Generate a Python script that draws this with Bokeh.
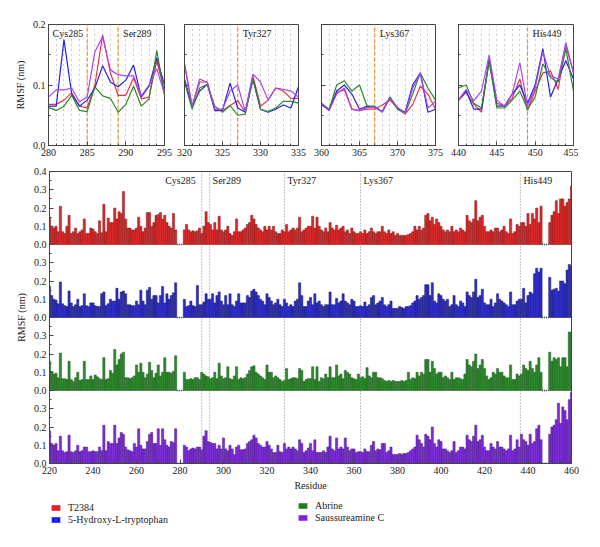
from bokeh.plotting import figure
from bokeh.layouts import column, row
from bokeh.models import (Range1d, FixedTicker, ColumnDataSource, Legend, LegendItem,
                          CustomJSTickFormatter, PrintfTickFormatter)
from bokeh.embed import file_html
from bokeh.resources import INLINE
from bokeh.core.properties import value

FONT = "Liberation Serif"

# ---------------- inset data (RMSF, nm) ----------------
inset_starts = [280, 320, 360, 440]
inset_red = [
    [0.068, 0.068, 0.075, 0.087, 0.065, 0.062, 0.10, 0.183, 0.12, 0.083, 0.083, 0.112, 0.077, 0.08, 0.14, 0.09],
    [0.135, 0.065, 0.105, 0.105, 0.057, 0.058, 0.066, 0.074, 0.055, 0.115, 0.065, 0.075, 0.095, 0.09, 0.078, 0.078],
    [0.067, 0.06, 0.088, 0.092, 0.06, 0.058, 0.06, 0.06, 0.067, 0.075, 0.062, 0.052, 0.068, 0.098, 0.085, 0.06],
    [0.075, 0.088, 0.068, 0.055, 0.14, 0.07, 0.065, 0.078, 0.11, 0.058, 0.09, 0.12, 0.123, 0.093, 0.165, 0.12],
]
inset_blue = [
    [0.065, 0.065, 0.175, 0.085, 0.065, 0.075, 0.095, 0.132, 0.105, 0.097, 0.108, 0.133, 0.08, 0.098, 0.145, 0.10],
    [0.11, 0.065, 0.09, 0.101, 0.058, 0.058, 0.103, 0.062, 0.055, 0.11, 0.06, 0.055, 0.06, 0.067, 0.062, 0.097],
    [0.068, 0.058, 0.09, 0.10, 0.085, 0.06, 0.065, 0.063, 0.056, 0.08, 0.062, 0.055, 0.10, 0.12, 0.055, 0.06],
    [0.075, 0.09, 0.06, 0.06, 0.143, 0.065, 0.065, 0.085, 0.10, 0.07, 0.10, 0.16, 0.08, 0.11, 0.14, 0.11],
]
inset_green = [
    [0.063, 0.058, 0.065, 0.083, 0.058, 0.056, 0.097, 0.082, 0.078, 0.055, 0.068, 0.098, 0.065, 0.077, 0.157, 0.083],
    [0.105, 0.06, 0.095, 0.101, 0.065, 0.055, 0.066, 0.05, 0.052, 0.11, 0.06, 0.056, 0.062, 0.073, 0.073, 0.07],
    [0.07, 0.06, 0.10, 0.107, 0.09, 0.10, 0.065, 0.065, 0.055, 0.08, 0.06, 0.053, 0.085, 0.12, 0.095, 0.075],
    [0.095, 0.10, 0.07, 0.062, 0.14, 0.062, 0.062, 0.075, 0.09, 0.06, 0.08, 0.135, 0.112, 0.105, 0.16, 0.09],
]
inset_purple = [
    [0.08, 0.092, 0.092, 0.095, 0.072, 0.08, 0.155, 0.18, 0.125, 0.117, 0.115, 0.115, 0.082, 0.10, 0.127, 0.085],
    [0.135, 0.065, 0.11, 0.104, 0.06, 0.06, 0.09, 0.10, 0.056, 0.118, 0.105, 0.075, 0.095, 0.093, 0.09, 0.08],
    [0.07, 0.058, 0.085, 0.095, 0.06, 0.057, 0.063, 0.063, 0.056, 0.078, 0.063, 0.053, 0.095, 0.12, 0.062, 0.073],
    [0.075, 0.093, 0.074, 0.09, 0.15, 0.075, 0.065, 0.085, 0.137, 0.065, 0.095, 0.155, 0.115, 0.11, 0.17, 0.12],
]
inset_marks = [[285, 289], [327], [367], [449]]
inset_mark_labels = [["Cys285", "Ser289"], ["Tyr327"], ["Lys367"], ["His449"]]
inset_mark_align = [["right", "left"], ["left"], ["left"], ["left"]]

# ---------------- full-range data ----------------
residues = list(range(220, 461))
N = None
red_vals = [
    0.15, 0.10, 0.09, 0.10, 0.07, 0.21, 0.07, 0.06, 0.10, 0.16,
    0.06, 0.07, 0.09, 0.06, 0.07, 0.08, 0.14, 0.06, 0.06, 0.09,
    0.085, 0.07, 0.06, 0.13, 0.065, 0.22, 0.07, 0.145, 0.12, 0.12,
    0.20, 0.14, 0.18, 0.17, 0.29, 0.14, 0.09, 0.09, 0.08, 0.08,
    0.09, 0.15, 0.10, 0.07, 0.09, 0.175, 0.175, 0.10, 0.12, 0.16,
    0.165, 0.175, 0.14, 0.16, 0.12, 0.10, 0.09, 0.17, 0.08, N,
    N, N, 0.08, 0.11, 0.08, 0.07, 0.075, 0.07, 0.075, 0.09,
    0.06, 0.10, 0.18, 0.12, 0.11, 0.08, 0.12, 0.08, 0.155, 0.08,
    0.07, 0.08, 0.10, 0.06, 0.05, 0.07, 0.14, 0.07, 0.07, 0.08,
    0.09, 0.11, 0.12, 0.16, 0.14, 0.11, 0.09, 0.08, 0.07, 0.10,
    0.08, 0.10, 0.08, 0.10, 0.07, 0.06, 0.06, 0.08, 0.07, 0.11,
    0.07, 0.08, 0.09, 0.08, 0.09, 0.15, 0.07, 0.08, 0.09, 0.10,
    0.10, 0.155, 0.09, 0.15, 0.10, 0.08, 0.07, 0.09, 0.07, 0.12,
    0.09, 0.08, 0.105, 0.08, 0.09, 0.10, 0.07, 0.08, 0.06, 0.09,
    0.07, 0.06, 0.06, 0.07, 0.06, 0.08, 0.06, 0.07, 0.09, 0.07,
    0.06, 0.07, 0.07, 0.10, 0.07, 0.06, 0.08, 0.06, 0.07, 0.05,
    0.06, 0.05, 0.05, 0.05, 0.05, 0.055, 0.06, 0.07, 0.10, 0.08,
    0.10, 0.08, 0.09, 0.16, 0.17, 0.13, 0.15, 0.11, 0.14, 0.12,
    0.10, 0.08, 0.07, 0.08, 0.07, 0.10, 0.07, 0.08, 0.07, 0.09,
    0.08, 0.07, 0.16, 0.13, 0.12, 0.14, 0.24, 0.13, 0.15, 0.16,
    0.10, 0.07, 0.07, 0.08, 0.07, 0.09, 0.09, 0.07, 0.08, 0.10,
    0.07, 0.06, 0.14, 0.06, 0.07, 0.11, 0.10, 0.12, 0.12, 0.10,
    0.17, 0.11, 0.17, 0.14, 0.20, 0.12, 0.21, N, N, N,
    0.12, 0.16, 0.18, 0.24, 0.17, 0.25, 0.25, 0.21, 0.23, 0.25, 0.32,
]
blue_vals = [
    0.17, 0.12, 0.10, 0.095, 0.075, 0.195, 0.075, 0.065, 0.06, 0.145,
    0.08, 0.06, 0.07, 0.10, 0.06, 0.065, 0.13, 0.065, 0.06, 0.08,
    0.08, 0.065, 0.06, 0.06, 0.13, 0.14, 0.065, 0.075, 0.10, 0.09,
    0.09, 0.16, 0.10, 0.14, 0.145, 0.13, 0.07, 0.07, 0.065, 0.065,
    0.09, 0.07, 0.15, 0.09, 0.07, 0.15, 0.165, 0.10, 0.12, 0.12,
    0.08, 0.12, 0.17, 0.08, 0.13, 0.10, 0.12, 0.135, 0.19, N,
    N, N, 0.10, 0.06, 0.065, 0.09, 0.065, 0.06, 0.175, 0.07,
    0.07, 0.085, 0.13, 0.10, 0.10, 0.13, 0.08, 0.12, 0.14, 0.09,
    0.07, 0.12, 0.07, 0.13, 0.07, 0.06, 0.09, 0.13, 0.08, 0.08,
    0.08, 0.12, 0.11, 0.145, 0.155, 0.14, 0.12, 0.10, 0.09, 0.07,
    0.13, 0.11, 0.09, 0.07, 0.08, 0.10, 0.07, 0.06, 0.10, 0.08,
    0.06, 0.07, 0.06, 0.09, 0.10, 0.19, 0.12, 0.06, 0.06, 0.09,
    0.11, 0.07, 0.13, 0.08, 0.09, 0.07, 0.06, 0.07, 0.07, 0.14,
    0.07, 0.07, 0.105, 0.08, 0.09, 0.13, 0.09, 0.08, 0.07, 0.10,
    0.09, 0.06, 0.06, 0.065, 0.06, 0.085, 0.06, 0.07, 0.11, 0.12,
    0.07, 0.08, 0.09, 0.11, 0.07, 0.06, 0.07, 0.09, 0.05, 0.05,
    0.05, 0.06, 0.055, 0.05, 0.06, 0.06, 0.065, 0.08, 0.09, 0.12,
    0.10, 0.11, 0.12, 0.18, 0.18, 0.12, 0.19, 0.09, 0.08, 0.13,
    0.12, 0.10, 0.09, 0.10, 0.06, 0.07, 0.12, 0.07, 0.06, 0.09,
    0.08, 0.06, 0.14, 0.12, 0.11, 0.14, 0.21, 0.11, 0.12, 0.155,
    0.08, 0.07, 0.07, 0.10, 0.06, 0.08, 0.13, 0.10, 0.09, 0.08,
    0.07, 0.06, 0.14, 0.07, 0.07, 0.09, 0.10, 0.10, 0.16, 0.08,
    0.12, 0.14, 0.13, 0.24, 0.27, 0.25, 0.27, N, N, N,
    0.22, 0.15, 0.155, 0.16, 0.145, 0.20, 0.20, 0.185, 0.26, 0.29, 0.28,
]
green_vals = [
    0.16, 0.105, 0.09, 0.095, 0.07, 0.205, 0.065, 0.065, 0.06, 0.16,
    0.06, 0.05, 0.07, 0.10, 0.055, 0.06, 0.16, 0.06, 0.06, 0.08,
    0.06, 0.085, 0.075, 0.065, 0.06, 0.18, 0.06, 0.065, 0.11, 0.095,
    0.225, 0.14, 0.17, 0.20, 0.21, 0.07, 0.07, 0.065, 0.07, 0.08,
    0.14, 0.10, 0.15, 0.10, 0.07, 0.09, 0.155, 0.11, 0.07, 0.095,
    0.14, 0.08, 0.10, 0.18, 0.10, 0.10, 0.095, 0.105, 0.19, N,
    N, N, 0.10, 0.06, 0.06, 0.065, 0.06, 0.07, 0.07, 0.06,
    0.10, 0.09, 0.08, 0.075, 0.065, 0.07, 0.10, 0.065, 0.15, 0.08,
    0.065, 0.07, 0.13, 0.065, 0.06, 0.08, 0.13, 0.06, 0.07, 0.065,
    0.07, 0.09, 0.11, 0.13, 0.135, 0.10, 0.09, 0.08, 0.07, 0.06,
    0.14, 0.10, 0.10, 0.07, 0.08, 0.07, 0.06, 0.05, 0.055, 0.12,
    0.06, 0.065, 0.07, 0.07, 0.065, 0.12, 0.11, 0.05, 0.06, 0.065,
    0.065, 0.13, 0.06, 0.13, 0.05, 0.07, 0.065, 0.09, 0.07, 0.13,
    0.07, 0.07, 0.14, 0.08, 0.09, 0.065, 0.11, 0.10, 0.09, 0.07,
    0.065, 0.06, 0.09, 0.07, 0.075, 0.065, 0.125, 0.08, 0.07, 0.10,
    0.10, 0.07, 0.07, 0.065, 0.055, 0.05, 0.055, 0.05, 0.055, 0.05,
    0.05, 0.05, 0.055, 0.05, 0.055, 0.10, 0.06, 0.07, 0.065, 0.10,
    0.08, 0.10, 0.09, 0.17, 0.17, 0.10, 0.16, 0.12, 0.09, 0.10,
    0.10, 0.07, 0.08, 0.07, 0.06, 0.10, 0.06, 0.07, 0.07, 0.065,
    0.06, 0.09, 0.17, 0.14, 0.13, 0.16, 0.20, 0.12, 0.14, 0.17,
    0.12, 0.08, 0.06, 0.07, 0.10, 0.09, 0.12, 0.10, 0.10, 0.08,
    0.07, 0.07, 0.14, 0.06, 0.06, 0.09, 0.08, 0.09, 0.14, 0.12,
    0.11, 0.16, 0.12, 0.10, 0.14, 0.18, 0.10, N, N, N,
    0.21, 0.16, 0.18, 0.17, 0.18, 0.13, 0.18, 0.18, 0.13, 0.32, 0.32,
]
purple_vals = [
    0.18, 0.11, 0.10, 0.11, 0.07, 0.15, 0.07, 0.06, 0.065, 0.155,
    0.065, 0.06, 0.07, 0.10, 0.065, 0.07, 0.09, 0.09, 0.065, 0.065,
    0.07, 0.065, 0.065, 0.09, 0.07, 0.21, 0.07, 0.12, 0.11, 0.11,
    0.21, 0.11, 0.14, 0.17, 0.16, 0.09, 0.075, 0.07, 0.065, 0.11,
    0.09, 0.19, 0.10, 0.08, 0.08, 0.12, 0.16, 0.17, 0.11, 0.11,
    0.19, 0.10, 0.19, 0.13, 0.10, 0.09, 0.12, 0.115, 0.19, N,
    N, N, 0.10, 0.09, 0.07, 0.08, 0.085, 0.08, 0.09, 0.09,
    0.075, 0.15, 0.18, 0.12, 0.115, 0.11, 0.11, 0.08, 0.10, 0.08,
    0.14, 0.08, 0.07, 0.10, 0.08, 0.05, 0.09, 0.10, 0.075, 0.075,
    0.08, 0.11, 0.12, 0.13, 0.155, 0.14, 0.11, 0.10, 0.09, 0.09,
    0.12, 0.10, 0.08, 0.06, 0.06, 0.10, 0.065, 0.06, 0.11, 0.08,
    0.09, 0.08, 0.09, 0.08, 0.07, 0.13, 0.11, 0.06, 0.07, 0.085,
    0.11, 0.07, 0.13, 0.06, 0.06, 0.06, 0.07, 0.06, 0.09, 0.15,
    0.08, 0.07, 0.14, 0.08, 0.09, 0.08, 0.14, 0.09, 0.07, 0.08,
    0.08, 0.06, 0.065, 0.065, 0.06, 0.08, 0.065, 0.065, 0.10, 0.12,
    0.07, 0.08, 0.075, 0.11, 0.11, 0.06, 0.07, 0.09, 0.05, 0.05,
    0.05, 0.055, 0.05, 0.055, 0.055, 0.06, 0.07, 0.08, 0.09, 0.155,
    0.13, 0.11, 0.09, 0.16, 0.15, 0.13, 0.20, 0.11, 0.09, 0.13,
    0.12, 0.08, 0.08, 0.07, 0.06, 0.07, 0.12, 0.06, 0.07, 0.09,
    0.09, 0.08, 0.155, 0.13, 0.12, 0.15, 0.21, 0.12, 0.13, 0.155,
    0.09, 0.07, 0.07, 0.11, 0.09, 0.08, 0.12, 0.09, 0.09, 0.08,
    0.07, 0.08, 0.155, 0.07, 0.08, 0.13, 0.09, 0.16, 0.13, 0.12,
    0.10, 0.16, 0.11, 0.12, 0.19, 0.21, 0.13, N, N, N,
    0.16, 0.20, 0.21, 0.24, 0.33, 0.22, 0.31, 0.29, 0.24, 0.35, 0.39,
]
series_names = ["T2384", "5-Hydroxy-L-tryptophan", "Abrine", "Saussureamine C"]
bar_fill = ["#d92b2b", "#2f2fc8", "#2f8a2f", "#7d2fd8"]
bar_line = ["#8a1414", "#16166e", "#1a5a1a", "#4a1588"]
legend_fill = ["#ea1c24", "#1c1cf0", "#1f7f1f", "#7f22e6"]
inset_line = ["#f0304a", "#2424e6", "#2a8a2a", "#a845f0"]
panel_offsets = [1.2, 0.8, 0.4, 0.0]

marker_x = [290, 293.6, 328, 363, 436.5]
marker_labels = ["Cys285", "Ser289", "Tyr327", "Lys367", "His449"]
marker_align = ["right", "left", "left", "left", "left"]

for s in (red_vals, blue_vals, green_vals, purple_vals):
    assert len(s) == len(residues)


def style_axes(p, fs="10px"):
    for ax in (p.xaxis[0], p.yaxis[0]):
        ax.major_label_text_font = FONT
        ax.major_label_text_font_size = fs
        ax.major_label_text_color = "#222222"
        ax.axis_label_text_font = FONT
        ax.axis_label_text_font_size = fs
        ax.axis_label_text_font_style = "normal"
        ax.axis_label_text_color = "#222222"
        ax.axis_line_color = "#444444"
        ax.major_tick_line_color = "#444444"
        ax.minor_tick_line_color = "#444444"
        ax.major_tick_in = 4
        ax.major_tick_out = 0
        ax.minor_tick_in = 2
        ax.minor_tick_out = 0
        ax.major_label_standoff = 3
    p.outline_line_color = "#444444"
    p.outline_line_width = 1
    p.background_fill_color = "white"
    p.border_fill_color = "white"


# ---------------- insets ----------------
inset_geom = [(48, 116, 10), (10, 114, 10), (13, 114, 10), (13, 115, 5)]
insets = []
for i, x0 in enumerate(inset_starts):
    lb, fw, rb = inset_geom[i]
    p = figure(width=lb + fw + rb, height=24 + 121 + 18, output_backend="svg", toolbar_location=None,
               x_range=Range1d(x0, x0 + 15), y_range=Range1d(0, 0.2),
               min_border_left=lb, min_border_right=rb, min_border_top=24, min_border_bottom=18)
    xs = list(range(x0, x0 + 16))
    p.xgrid.ticker = FixedTicker(ticks=xs)
    p.xgrid.grid_line_color = "#9a9a9a"
    p.xgrid.grid_line_dash = "1 4"
    p.xgrid.grid_line_width = 1
    p.ygrid.grid_line_color = None
    p.xaxis.ticker = FixedTicker(ticks=[x0, x0 + 5, x0 + 10, x0 + 15], minor_ticks=xs)
    p.yaxis.ticker = FixedTicker(ticks=[0, 0.1, 0.2], minor_ticks=[0.05, 0.15])
    style_axes(p)
    if i == 0:
        p.yaxis.formatter = PrintfTickFormatter(format="%.1f")
        p.yaxis.axis_label = "RMSF (nm)"
        p.yaxis.axis_label_standoff = 4
    else:
        p.yaxis.formatter = CustomJSTickFormatter(code='return "";')
        p.yaxis.major_label_standoff = 0
    for mx in inset_marks[i]:
        p.line(x=[mx, mx], y=[0, 0.2], line_color="#f09030", line_dash="4 2", line_width=1.2)
    for vals, col in zip([inset_red[i], inset_blue[i], inset_green[i], inset_purple[i]], inset_line):
        p.line(x=xs, y=vals, line_color=col, line_width=1.2)
    lsrc = ColumnDataSource(dict(x=inset_marks[i], y=[0.2] * len(inset_marks[i]),
                                 t=inset_mark_labels[i], a=inset_mark_align[i],
                                 dx=[-4 if a == "right" else 5 for a in inset_mark_align[i]]))
    p.text(x="x", y="y", text="t", source=lsrc, text_align="a", text_baseline="top",
           x_offset="dx", y_offset=3, text_font=value(FONT), text_font_size="10px",
           text_color="#222222")
    insets.append(p)

# ---------------- stacked bar panel ----------------
big = figure(width=49 + 522 + 10, height=8 + 292 + 30, output_backend="svg", toolbar_location=None,
             x_range=Range1d(220, 460), y_range=Range1d(0, 1.6),
             min_border_left=49, min_border_right=10, min_border_top=8, min_border_bottom=30)
big.xgrid.grid_line_color = None
big.ygrid.grid_line_color = None
big.xaxis.ticker = FixedTicker(ticks=list(range(220, 461, 20)), minor_ticks=list(range(220, 461, 5)))
ytick = [0.0, 0.1, 0.2, 0.3, 0.4, 0.5, 0.6, 0.7, 0.8, 0.9, 1.0, 1.1, 1.2, 1.3, 1.4, 1.5, 1.6]
big.yaxis.ticker = FixedTicker(ticks=ytick, minor_ticks=[t + 0.05 for t in ytick[:-1]])
big.yaxis.formatter = CustomJSTickFormatter(code="""
    if (tick > 1.55) return "0.4";
    const v = tick - 0.4 * Math.floor((tick + 1e-6) / 0.4);
    return Math.abs(v).toFixed(1);
""")
style_axes(big)
big.xaxis.axis_label = "Residue"
big.xaxis.axis_label_standoff = 3
big.yaxis.axis_label = "RMSF (nm)"
big.yaxis.axis_label_standoff = 4

for mx in marker_x:
    big.line(x=[mx, mx], y=[0, 1.6], line_color="#8a8a8a", line_dash="1 2", line_width=1)

bar_sources = []
for vals, off, fc, lc in zip([red_vals, blue_vals, green_vals, purple_vals], panel_offsets, bar_fill, bar_line):
    xs = [r for r, v in zip(residues, vals) if v is not None]
    tops = [off + v for v in vals if v is not None]
    src = ColumnDataSource(dict(x=xs, top=tops, bottom=[off] * len(xs)))
    bar_sources.append(src)
    big.vbar(x="x", top="top", bottom="bottom", width=1, source=src,
             fill_color=fc, line_color=lc, line_width=0.5)
    # dotted zero marks over missing residues
    missing = [r_ for r_, v in zip(residues, vals) if v is None]
    runs = []
    for m in missing:
        if runs and m == runs[-1][1] + 1:
            runs[-1][1] = m
        else:
            runs.append([m, m])
    for a, b in runs:
        big.line(x=[a - 0.5, b + 0.5], y=[off, off], line_color="#222222", line_dash="1 1", line_width=1.5)

msrc = ColumnDataSource(dict(x=marker_x, y=[1.6] * len(marker_x), t=marker_labels, a=marker_align,
                             dx=[-6 if a == "right" else 3 for a in marker_align]))
big.text(x="x", y="y", text="t", source=msrc, text_align="a", text_baseline="top",
         x_offset="dx", y_offset=3, text_font=value(FONT), text_font_size="10px", text_color="#222222")

# ---------------- legend strip (its renderers reuse the bar data, far outside this strip's ranges) ----------------
lfig = figure(width=581, height=40, output_backend="svg", toolbar_location=None,
              x_range=Range1d(1000, 1001), y_range=Range1d(50, 51), x_axis_type=None, y_axis_type=None,
              min_border_left=0, min_border_right=0, min_border_top=0, min_border_bottom=0)
lfig.outline_line_color = None
lfig.xgrid.grid_line_color = None
lfig.ygrid.grid_line_color = None
leg_rs = []
for src, fc in zip(bar_sources, legend_fill):
    leg_rs.append(lfig.vbar(x="x", top="top", bottom="bottom", width=1, source=src,
                            fill_color=fc, line_color=None))

leg_kw = dict(orientation="vertical", border_line_color=None, background_fill_alpha=0,
              padding=0, margin=0, spacing=1, glyph_width=11, glyph_height=7, label_height=10,
              label_standoff=7, label_text_font=FONT, label_text_font_size="10px",
              label_text_color="#222222")
leg1 = Legend(items=[LegendItem(label=series_names[0], renderers=[leg_rs[0]]),
                     LegendItem(label=series_names[1], renderers=[leg_rs[1]])],
              location=(1, 8), **leg_kw)
leg2 = Legend(items=[LegendItem(label=series_names[2], renderers=[leg_rs[2]]),
                     LegendItem(label=series_names[3], renderers=[leg_rs[3]])],
              location=(248, 10), **leg_kw)
lfig.add_layout(leg1)
lfig.add_layout(leg2)

layout = column(row(*insets), big, lfig)
open("out.html", "w").write(file_html(layout, INLINE))
